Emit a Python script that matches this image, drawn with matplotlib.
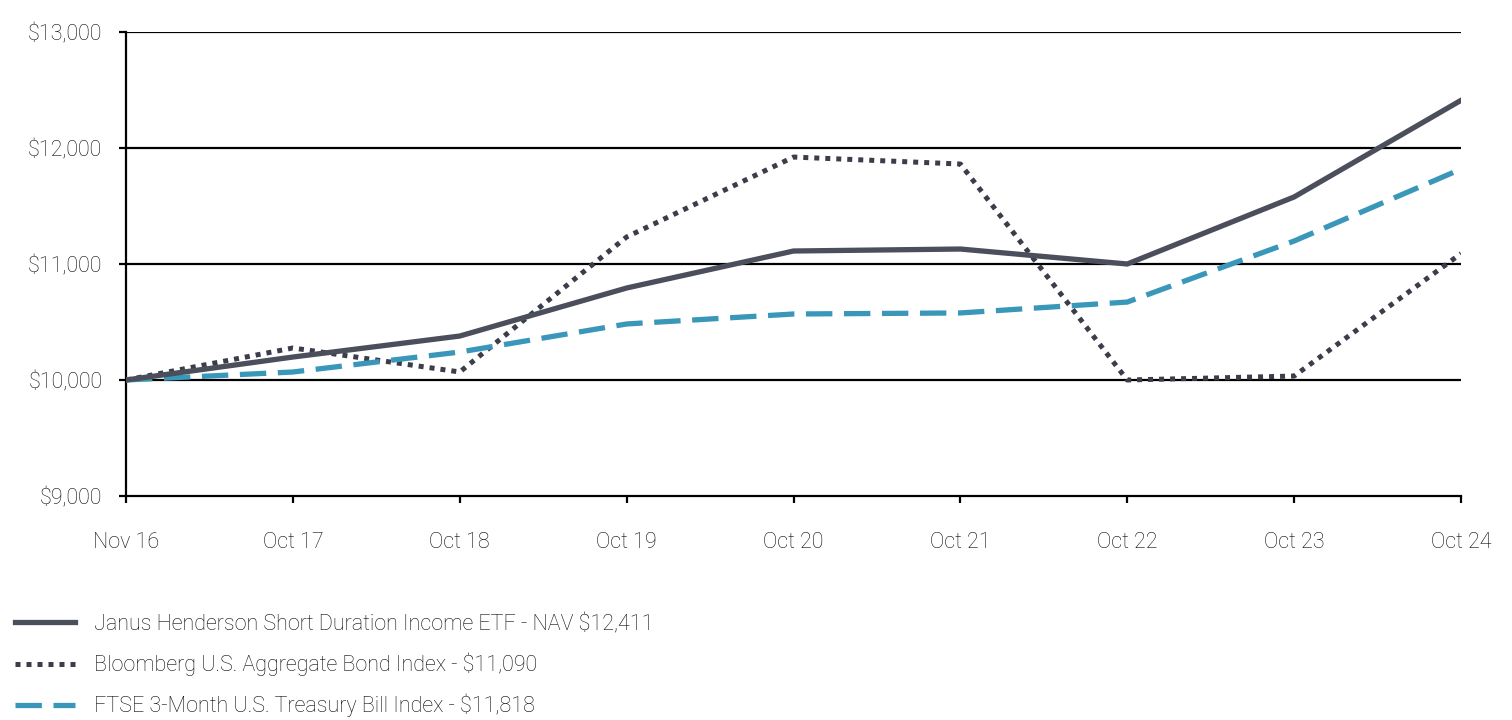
import matplotlib
matplotlib.use("Agg")
import matplotlib.pyplot as plt
from matplotlib.ticker import FuncFormatter

plt.rcParams['font.family'] = ['Roboto', 'DejaVu Sans']
plt.rcParams['font.weight'] = 'light'

categories = ["Nov 16", "Oct 17", "Oct 18", "Oct 19", "Oct 20", "Oct 21", "Oct 22", "Oct 23", "Oct 24"]
janus = [10000, 10198, 10379, 10793, 11112, 11129, 11000, 11578, 12411]
bloomberg = [10000, 10276, 10069, 11233, 11922, 11862, 10000, 10034, 11090]
ftse = [10000, 10069, 10241, 10483, 10569, 10578, 10672, 11198, 11818]
labels = ["Janus Henderson Short Duration Income ETF - NAV $12,411",
          "Bloomberg U.S. Aggregate Bond Index - $11,090",
          "FTSE 3-Month U.S. Treasury Bill Index - $11,818"]
yticks = [9000, 10000, 11000, 12000, 13000]

fig = plt.figure(figsize=(15.12, 7.2), dpi=100)
ax = fig.add_axes([126/1512, 1-496/720, (1461-126)/1512, (496-32)/720])

x = list(range(len(categories)))
c_dark = "#4b4e5b"
c_dot = "#3b3e4a"
c_blue = "#3a97b9"
txt = "#0a0a0a"
fs = 15.5
l1, = ax.plot(x, janus, color=c_dark, lw=3.8, solid_joinstyle='miter', label=labels[0], zorder=5)
l2, = ax.plot(x, bloomberg, color=c_dot, lw=3.6, linestyle=(0, (1.0, 1.2)), label=labels[1], zorder=4)
l3, = ax.plot(x, ftse, color=c_blue, lw=3.8, linestyle=(0, (5.0, 2.2)), label=labels[2], zorder=4)

ax.set_xlim(0, len(categories) - 1)
ax.set_ylim(9000, 13000)
ax.set_xticks(x)
ax.set_xticklabels(categories)
ax.set_yticks(yticks)
ax.yaxis.set_major_formatter(FuncFormatter(lambda v, p: f"${v:,.0f}"))
for yv in yticks[1:]:
    ax.axhline(yv, color="black", lw=1.6, zorder=1)
for s in ["top", "right"]:
    ax.spines[s].set_visible(False)
for s in ["left", "bottom"]:
    ax.spines[s].set_color("black")
    ax.spines[s].set_linewidth(1.6)
ax.tick_params(axis="both", length=5, width=1.6, color="black", labelsize=fs, labelcolor=txt)
ax.tick_params(axis="x", pad=21)
ax.tick_params(axis="y", pad=12)

leg = fig.legend(handles=[l1, l2, l3], loc="upper left", bbox_to_anchor=(15/1512, 1-614/720),
                 frameon=False, fontsize=fs, handlelength=2.8, handletextpad=0.85,
                 labelspacing=0.82, borderpad=0, borderaxespad=0)
for t in leg.get_texts():
    t.set_color(txt)

fig.savefig("out.png", dpi=100)
